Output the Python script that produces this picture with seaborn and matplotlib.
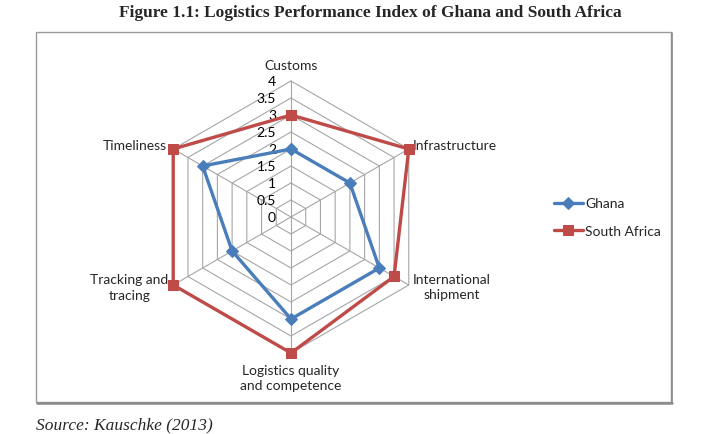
import matplotlib

matplotlib.use("Agg")
import matplotlib.pyplot as plt
import numpy as np
import pandas as pd
import seaborn as sns
from matplotlib.patches import Rectangle
from matplotlib.lines import Line2D

categories = [
    "Customs",
    "Infrastructure",
    "International\nshipment",
    "Logistics quality\nand competence",
    "Tracking and\ntracing",
    "Timeliness",
]
ghana = [2.0, 2.0, 3.0, 3.0, 2.0, 3.0]
south_africa = [3.0, 4.0, 3.5, 4.0, 4.0, 4.0]
ring_levels = [0, 0.5, 1, 1.5, 2, 2.5, 3, 3.5, 4]
ring_labels = ["0", "0.5", "1", "1.5", "2", "2.5", "3", "3.5", "4"]

BLUE = "#4A7EBB"
RED = "#BE4B48"
GRID = "#A6A6A6"
FONT = ["Lato", "DejaVu Sans"]

sns.set_theme(style="white")
plt.rcParams["font.family"] = FONT

W, H, DPI = 707, 435, 100
CX, CY, PX_PER_UNIT = 291, 218, 34.0

angles = np.deg2rad(np.arange(len(categories)) * 360 / len(categories))


def to_xy(values):
    r = np.asarray(values, dtype=float)
    r = np.append(r, r[0])
    a = np.append(angles, angles[0])
    return r * np.sin(a), r * np.cos(a)


fig = plt.figure(figsize=(W / DPI, H / DPI), dpi=DPI)
ax = fig.add_axes([0, 0, 1, 1])
ax.set_xlim(-CX / PX_PER_UNIT, (W - CX) / PX_PER_UNIT)
ax.set_ylim(-(H - CY) / PX_PER_UNIT, CY / PX_PER_UNIT)
ax.axis("off")

# chart frame, with a darker shadow on the bottom and right edges
fig.patches.append(
    Rectangle((36 / W, 1 - 403 / H), 635 / W, 370 / H, transform=fig.transFigure,
              fill=False, edgecolor="#9A9A9A", linewidth=1.0)
)
fig.lines.append(Line2D([37 / W, 672 / W], [1 - 404 / H, 1 - 404 / H],
                        transform=fig.transFigure, color="#8A8A8A", linewidth=1.8))
fig.lines.append(Line2D([671.5 / W, 671.5 / W], [1 - 404 / H, 1 - 34 / H],
                        transform=fig.transFigure, color="#8A8A8A", linewidth=1.2))

# hexagonal grid and spokes
rmax = ring_levels[-1]
for lvl in ring_levels[1:]:
    gx, gy = to_xy([lvl] * len(categories))
    ax.plot(gx, gy, color=GRID, linewidth=0.8, zorder=1)
for a in angles:
    ax.plot([0, rmax * np.sin(a)], [0, rmax * np.cos(a)], color=GRID,
            linewidth=0.8, zorder=1)

for lvl, lab in zip(ring_levels, ring_labels):
    ax.annotate(lab, (0, lvl), xytext=(-15, 0), textcoords="offset pixels",
                ha="right", va="center", fontsize=10, color="#000000")

# category labels
offsets = [(0, 16), (4, 4), (43, -2), (0, -25), (-44, -2), (-6, 4)]
aligns = [("center", "center"), ("left", "center"), ("center", "center"),
          ("center", "center"), ("center", "center"), ("right", "center")]
for a, lab, off, (ha, va) in zip(angles, categories, offsets, aligns):
    ax.annotate(lab, (rmax * np.sin(a), rmax * np.cos(a)), xytext=off,
                textcoords="offset pixels", ha=ha, va=va, fontsize=10,
                linespacing=1.3, multialignment="center")

series = [("Ghana", ghana, BLUE, "D", 6.5), ("South Africa", south_africa, RED, "s", 7.5)]
for name, vals, color, mk, ms in series:
    x, y = to_xy(vals)
    df = pd.DataFrame({"x": x, "y": y})
    sns.lineplot(data=df, x="x", y="y", sort=False, estimator=None, ax=ax,
                 color=color, linewidth=2.4, marker=mk, markersize=ms,
                 markeredgecolor=color, label=name, zorder=3)

ax.legend(loc="center left", bbox_to_anchor=(541 / W, 1 - 218 / H),
          bbox_transform=fig.transFigure, frameon=False, fontsize=10,
          handlelength=2.1, handletextpad=0.2, labelspacing=1.1)

fig.text(370 / W, 1 - 13 / H, "Figure 1.1: Logistics Performance Index of Ghana and South Africa",
         ha="center", va="center", fontsize=12.5, fontweight="bold",
         family="Liberation Serif")
fig.text(36 / W, 1 - 425 / H, "Source: Kauschke (2013)", ha="left", va="center",
         fontsize=12.5, style="italic", family="Liberation Serif")

fig.savefig("out.png", dpi=DPI)
